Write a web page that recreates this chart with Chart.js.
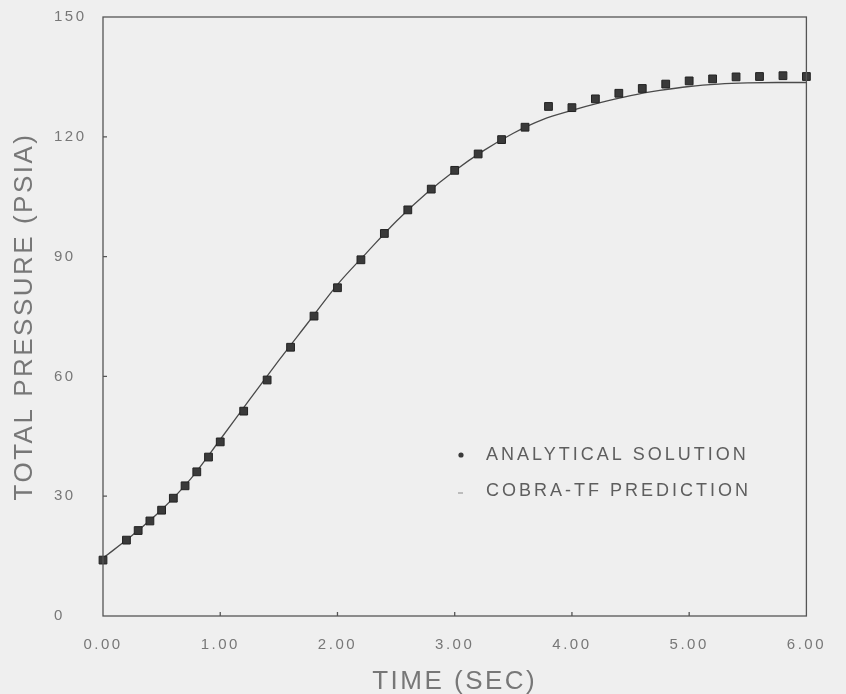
<!DOCTYPE html>
<html>
<head>
<meta charset="utf-8">
<script src="https://cdn.jsdelivr.net/npm/chart.js@4/dist/chart.umd.min.js"></script>
<style>
  html, body { margin: 0; padding: 0; background: #efefef; }
  #wrap { width: 846px; height: 694px; position: relative; }
</style>
</head>
<body>
<div id="wrap"><canvas id="pressureChart"></canvas></div>
<script>
// analytical solution (markers)
const tAnalytic = [0, 0.2, 0.3, 0.4, 0.5, 0.6, 0.7, 0.8, 0.9, 1.0, 1.2, 1.4, 1.6, 1.8, 2.0, 2.2, 2.4, 2.6, 2.8, 3.0, 3.2, 3.4, 3.6, 3.8, 4.0, 4.2, 4.4, 4.6, 4.8, 5.0, 5.2, 5.4, 5.6, 5.8, 6.0];
const pAnalytic = [14.0, 19.0, 21.4, 23.8, 26.5, 29.5, 32.6, 36.1, 39.8, 43.6, 51.3, 59.1, 67.3, 75.1, 82.2, 89.2, 95.8, 101.7, 106.9, 111.6, 115.7, 119.3, 122.4, 127.6, 127.3, 129.5, 130.9, 132.1, 133.2, 134.0, 134.5, 135.0, 135.1, 135.3, 135.1];

// COBRA-TF prediction (line)
const tCobra = [0, 0.25, 0.5, 0.75, 1.0, 1.25, 1.5, 1.75, 2.0, 2.25, 2.5, 2.75, 3.0, 3.25, 3.5, 3.75, 4.0, 4.25, 4.5, 4.75, 5.0, 5.25, 5.5, 5.75, 6.0];
const pCobra = [14.5, 20.2, 26.6, 34.4, 44.2, 54.2, 64.0, 73.5, 83.0, 91.0, 98.8, 105.6, 111.5, 116.6, 120.9, 124.3, 126.6, 128.6, 130.3, 131.6, 132.6, 133.2, 133.5, 133.6, 133.6];

const xTicks = [0, 1, 2, 3, 4, 5, 6];
const yTicks = [0, 30, 60, 90, 120, 150];

const legendLabels = ["ANALYTICAL SOLUTION", "COBRA-TF PREDICTION"];

const ink = "#555";
const textGray = "#777";
const fontFamily = "'Liberation Sans', Arial, sans-serif";

const plotterText = {
    id: "plotterText",
    beforeLayout(chart) { chart.ctx.letterSpacing = "2.5px"; },
    beforeDraw(chart) { chart.ctx.letterSpacing = "2.5px"; },
    afterDraw(chart) {
        const ctx = chart.ctx;
        const a = chart.chartArea;
        const xs = chart.scales.x, ys = chart.scales.y;
        ctx.save();
        // frame
        ctx.strokeStyle = ink;
        ctx.lineWidth = 1.3;
        ctx.strokeRect(a.left, a.top, a.right - a.left, a.bottom - a.top);
        // inward tick marks
        ctx.beginPath();
        xTicks.slice(1, -1).forEach(function (v) {
            const px = xs.getPixelForValue(v);
            ctx.moveTo(px, a.bottom);
            ctx.lineTo(px, a.bottom - 4);
        });
        yTicks.slice(1, -1).forEach(function (v) {
            const py = ys.getPixelForValue(v);
            ctx.moveTo(a.left, py);
            ctx.lineTo(a.left + 4, py);
        });
        ctx.stroke();

        // legend
        const lx = a.left + 358, ly = a.top + 438;
        ctx.fillStyle = "#3a3a3a";
        ctx.beginPath();
        ctx.arc(lx, ly, 2.6, 0, Math.PI * 2);
        ctx.fill();
        ctx.strokeStyle = "#999";
        ctx.lineWidth = 1.2;
        ctx.beginPath();
        ctx.moveTo(lx - 3, ly + 38);
        ctx.lineTo(lx + 2, ly + 38);
        ctx.stroke();
        ctx.letterSpacing = "3px";
        ctx.font = "18px " + fontFamily;
        ctx.fillStyle = "#5e5e5e";
        ctx.textBaseline = "middle";
        ctx.textAlign = "left";
        ctx.fillText(legendLabels[0], lx + 25, ly);
        ctx.fillText(legendLabels[1], lx + 25, ly + 36);
        ctx.restore();
    }
};

new Chart(document.getElementById("pressureChart"), {
    type: "scatter",
    data: {
        datasets: [{
            label: legendLabels[0],
            data: tAnalytic.map(function (t, i) { return { x: t, y: pAnalytic[i] }; }),
            pointStyle: "rect",
            pointRadius: 5.5,
            pointBackgroundColor: "#3a3a3a",
            pointBorderColor: "#222",
            pointBorderWidth: 1,
            showLine: false,
            clip: false,
            order: 1
        }, {
            label: legendLabels[1],
            data: tCobra.map(function (t, i) { return { x: t, y: pCobra[i] }; }),
            showLine: true,
            borderColor: "#4a4a4a",
            borderWidth: 1.3,
            pointRadius: 0,
            cubicInterpolationMode: "monotone",
            order: 2
        }]
    },
    options: {
        responsive: true,
        maintainAspectRatio: false,
        animation: false,
        layout: {
            padding: { left: 54, right: 28, top: 17, bottom: 0 }
        },
        plugins: {
            legend: { display: false },
            tooltip: { enabled: false }
        },
        scales: {
            x: {
                type: "linear",
                min: 0,
                max: 6,
                afterBuildTicks: function (scale) {
                    scale.ticks = xTicks.map(function (v) { return { value: v }; });
                },
                afterFit: function (scale) { scale.height = 78; },
                grid: { display: false, drawTicks: false },
                border: { display: false },
                ticks: {
                    padding: 20,
                    color: textGray,
                    font: { family: fontFamily, size: 15 },
                    callback: function (v) { return v.toFixed(2); }
                },
                title: {
                    display: true,
                    text: "TIME (SEC)",
                    color: textGray,
                    font: { family: fontFamily, size: 26 },
                    padding: { top: 0, bottom: -3 }
                }
            },
            y: {
                min: 0,
                max: 150,
                afterBuildTicks: function (scale) {
                    scale.ticks = yTicks.map(function (v) { return { value: v }; });
                },
                afterFit: function (scale) { scale.width = 49; },
                grid: { display: false, drawTicks: false },
                border: { display: false },
                ticks: {
                    crossAlign: "far",
                    color: textGray,
                    font: { family: fontFamily, size: 15 }
                },
                title: {
                    display: true,
                    text: "TOTAL PRESSURE (PSIA)",
                    color: textGray,
                    font: { family: fontFamily, size: 26 },
                    padding: { top: -45, bottom: 0 }
                }
            }
        }
    },
    plugins: [plotterText]
});
</script>
</body>
</html>
